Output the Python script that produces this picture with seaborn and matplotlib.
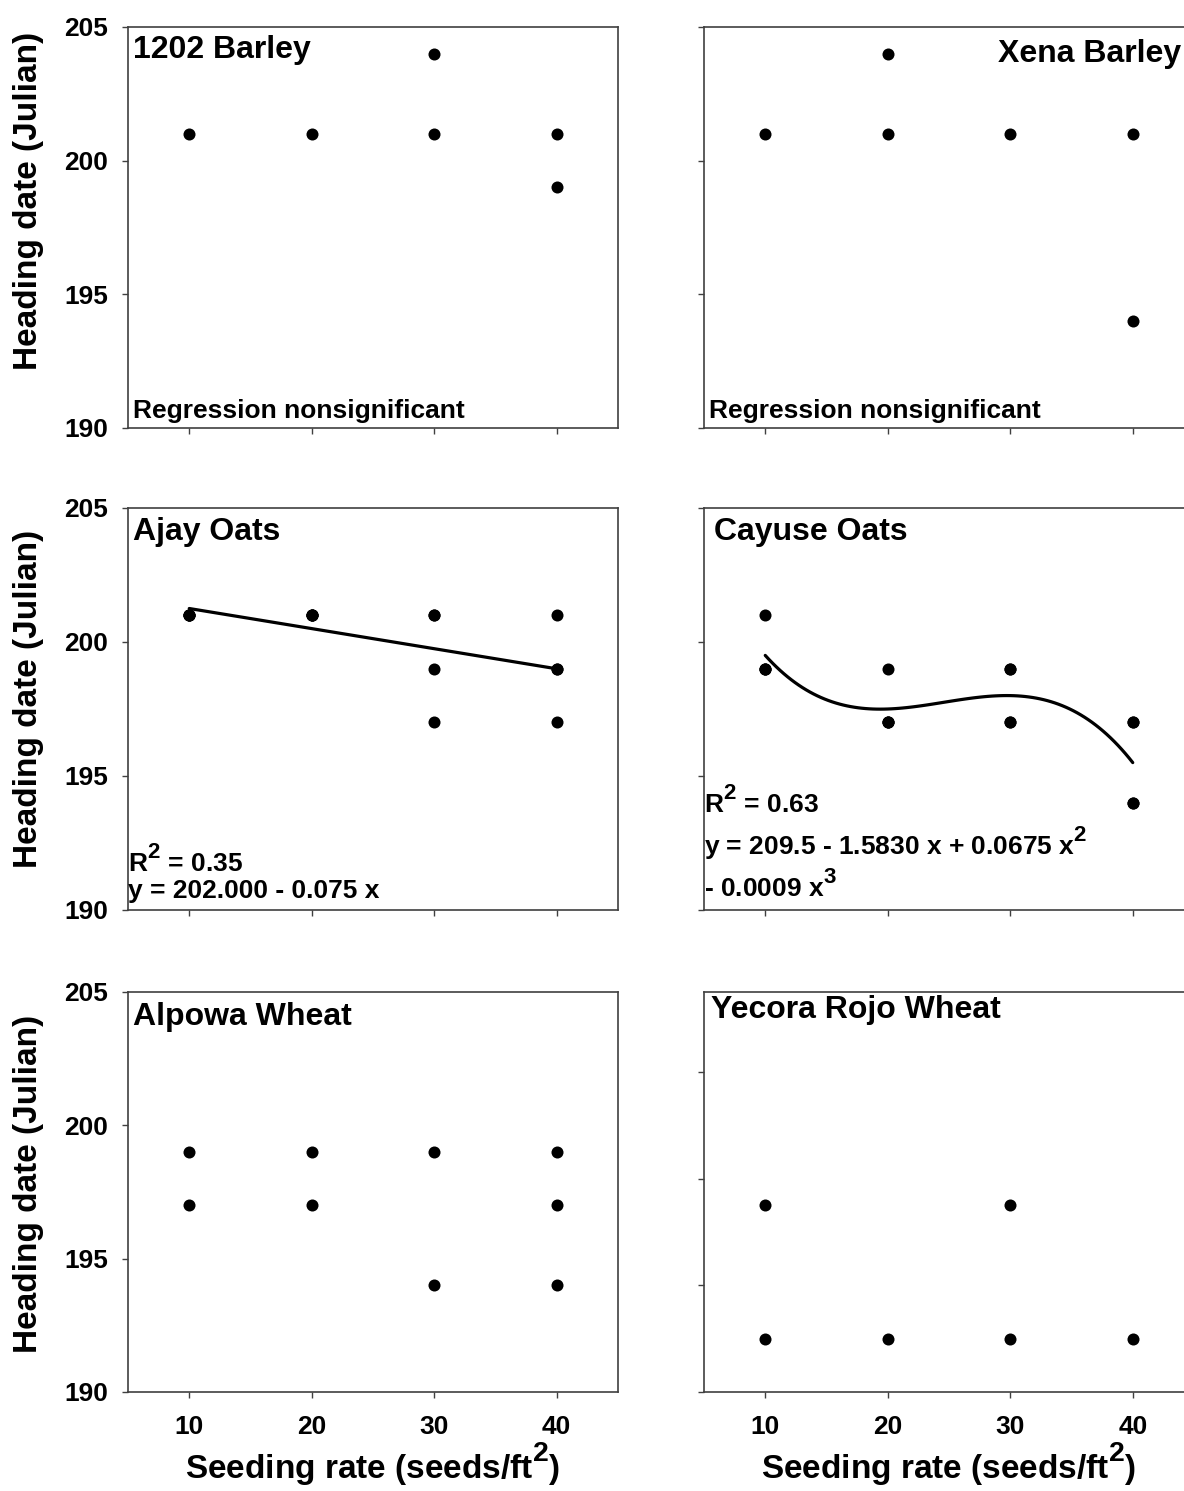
import matplotlib
matplotlib.use("Agg")
import matplotlib.pyplot as plt
import matplotlib._mathtext as mt
import pandas as pd
import seaborn as sns

# 数据：播种量 (seeds/ft2) 与抽穗日期 (Julian)
# 回归图按每个播种量 4 个重复录入（重叠的点看不出来，但决定拟合线）
barley_1202_x = [10, 20, 30, 30, 40, 40]
barley_1202_y = [201, 201, 204, 201, 201, 199]

xena_x = [10, 20, 20, 30, 40, 40]
xena_y = [201, 204, 201, 201, 201, 194]

ajay_x = [10, 10, 10, 10, 20, 20, 20, 20, 30, 30, 30, 30, 40, 40, 40, 40]
ajay_y = [201, 201, 201, 201, 201, 201, 201, 201, 201, 201, 199, 197, 201, 199, 199, 197]

cayuse_x = [10, 10, 10, 10, 20, 20, 20, 20, 30, 30, 30, 30, 40, 40, 40, 40]
cayuse_y = [201, 199, 199, 199, 199, 197, 197, 197, 199, 199, 197, 197, 197, 197, 194, 194]

alpowa_x = [10, 10, 20, 20, 30, 30, 40, 40, 40]
alpowa_y = [199, 197, 199, 197, 199, 194, 199, 197, 194]

yecora_x = [10, 10, 20, 30, 30, 40]
yecora_y = [197, 192, 192, 197, 192, 192]

panel_names = ["1202 Barley", "Xena Barley", "Ajay Oats", "Cayuse Oats",
               "Alpowa Wheat", "Yecora Rojo Wheat"]
x_ticks = [10, 20, 30, 40]
y_ticks = [190, 195, 200, 205]
y_ticks_yecora = [190, 194, 198, 202]

sns.set_style("ticks")
plt.rcParams['font.family'] = ['Liberation Sans', 'DejaVu Sans']
plt.rcParams['font.weight'] = 'bold'
plt.rcParams['axes.labelweight'] = 'bold'
plt.rcParams['text.color'] = 'black'
plt.rcParams['axes.labelcolor'] = 'black'
plt.rcParams['xtick.labelcolor'] = 'black'
plt.rcParams['ytick.labelcolor'] = 'black'
plt.rcParams['mathtext.fontset'] = 'custom'
plt.rcParams['mathtext.rm'] = 'Liberation Sans:bold'
plt.rcParams['mathtext.bf'] = 'Liberation Sans:bold'
plt.rcParams['mathtext.it'] = 'Liberation Sans:bold'
plt.rcParams['mathtext.default'] = 'rm'

# 上标放大、抬高一点，接近原图
if hasattr(mt, 'SHRINK_FACTOR'):
    mt.SHRINK_FACTOR = 0.85
if hasattr(mt, 'FontConstantsBase'):
    mt.FontConstantsBase.sup1 = 0.95

W, H = 1184, 1491
fig = plt.figure(figsize=(W / 100, H / 100), dpi=100)

col_x = [128, 704]
col_w = 490
row_top = [27, 508, 992]
row_h = [401, 402, 400]


def make_ax(c, r):
    return fig.add_axes([col_x[c] / W, 1 - (row_top[r] + row_h[r]) / H,
                         col_w / W, row_h[r] / H])


panels = [
    (barley_1202_x, barley_1202_y, None),
    (xena_x, xena_y, None),
    (ajay_x, ajay_y, 1),
    (cayuse_x, cayuse_y, 3),
    (alpowa_x, alpowa_y, None),
    (yecora_x, yecora_y, None),
]
# 标题位置 (axes 坐标)
title_pos = [(0.01, 0.923), (0.60, 0.913), (0.01, 0.92),
             (0.02, 0.92), (0.01, 0.918), (0.015, 0.935)]
ylabel_y = [0.566, 0.525, 0.52]

for i, (xs, ys, order) in enumerate(panels):
    r, c = divmod(i, 2)
    ax = make_ax(c, r)
    df = pd.DataFrame({'rate': xs, 'heading': ys})

    if order is not None:
        sns.regplot(data=df, x='rate', y='heading', order=order, ci=None,
                    scatter=False, ax=ax,
                    line_kws=dict(color='black', lw=2.3))
    sns.scatterplot(data=df, x='rate', y='heading', ax=ax, color='black',
                    s=75, linewidth=0, zorder=3)

    ax.set_xlim(5, 45)
    ax.set_ylim(190, 205)
    ax.set_xticks(x_ticks)
    ax.set_yticks(y_ticks_yecora if i == 5 else y_ticks)

    for sp in ax.spines.values():
        sp.set_color('#404040')
        sp.set_linewidth(1.2)
    ax.tick_params(direction='out', length=4.5, width=1, color='#404040',
                   labelsize=19)
    ax.tick_params(axis='y', pad=10)
    ax.tick_params(axis='x', pad=12)

    if c == 1:
        ax.tick_params(labelleft=False)
    if r < 2:
        ax.tick_params(labelbottom=False)

    ax.set_xlabel('')
    ax.set_ylabel('')
    if c == 0:
        ax.set_ylabel('Heading date (Julian)', fontsize=24)
        ax.yaxis.set_label_coords(-0.172, ylabel_y[r])
    if r == 2:
        ax.set_xlabel('Seeding rate (seeds/ft$^2$)', fontsize=24, labelpad=1)

    tx, ty = title_pos[i]
    ax.text(tx, ty, panel_names[i], transform=ax.transAxes, fontsize=23,
            ha='left', va='baseline')

    if i in (0, 1):
        ax.text(0.01, 0.025, 'Regression nonsignificant', transform=ax.transAxes,
                fontsize=19, ha='left', va='baseline')

# 回归方程
ax_ajay = fig.axes[2]
ax_ajay.text(0.0, 0.095, 'R$^2$ = 0.35', transform=ax_ajay.transAxes,
             fontsize=19, ha='left', va='baseline')
ax_ajay.text(0.0, 0.030, 'y = 202.000 - 0.075 x', transform=ax_ajay.transAxes,
             fontsize=19, ha='left', va='baseline')

ax_cay = fig.axes[3]
ax_cay.text(0.0, 0.241, 'R$^2$ = 0.63', transform=ax_cay.transAxes,
            fontsize=19, ha='left', va='baseline')
ax_cay.text(0.0, 0.137, 'y = 209.5 - 1.5830 x + 0.0675 x$^2$',
            transform=ax_cay.transAxes, fontsize=19, ha='left', va='baseline')
ax_cay.text(0.0, 0.032, '- 0.0009 x$^3$', transform=ax_cay.transAxes,
            fontsize=19, ha='left', va='baseline')

fig.savefig('out.png', dpi=100)
